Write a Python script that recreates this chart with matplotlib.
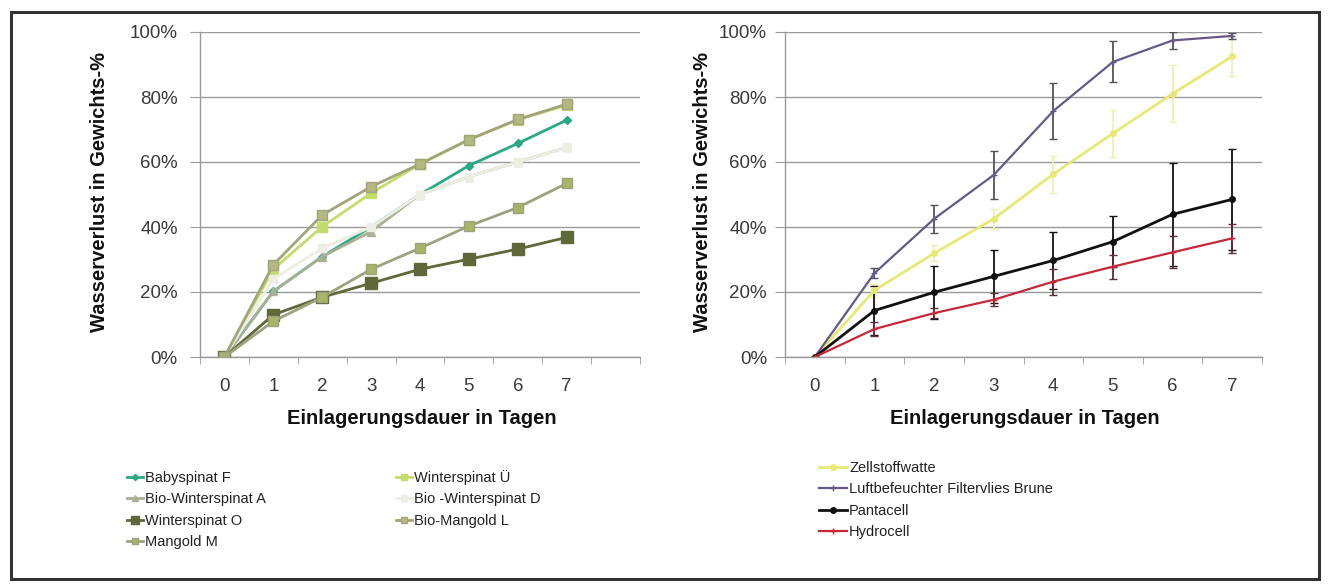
import matplotlib.pyplot as plt
from matplotlib.patches import Rectangle
from matplotlib.lines import Line2D
from matplotlib.ticker import FuncFormatter, FixedLocator

plt.rcParams['font.family'] = ['Liberation Sans', 'DejaVu Sans']

days = [0, 1, 2, 3, 4, 5, 6, 7]
day_labels = ['0', '1', '2', '3', '4', '5', '6', '7']

# left chart - spinach / chard samples (% weight loss)
babyspinat_f = [0, 20.2, 30.9, 40, 50, 58.9, 65.7, 72.9]
winterspinat_u = [0, 27, 40.1, 50.4, 59.4, 66.8, 73, 77.5]
bio_winterspinat_a = [0, 20.2, 30.9, 38.6, 50, 55.5, 60, 64.5]
bio_winterspinat_d = [0, 24, 33.5, 40, 50, 55.5, 60, 64.5]
winterspinat_o = [0, 13, 18.4, 22.7, 27, 30.1, 33.2, 36.8]
bio_mangold_l = [0, 28.4, 43.7, 52.4, 59.4, 66.9, 73.1, 77.8]
mangold_m = [0, 11, 18.4, 27, 33.5, 40.3, 46, 53.4]

# right chart - storage materials, mean and error
zellstoffwatte = [0, 20.5, 31.9, 42.5, 56.3, 68.8, 81, 92.5]
zellstoffwatte_err = [0, 2, 2.5, 3, 5.7, 7.2, 8.7, 6]
luftbefeuchter = [0, 25.8, 42.5, 56, 75.7, 90.8, 97.4, 98.8]
luftbefeuchter_err = [0, 1.5, 4.4, 7.5, 8.6, 6.3, 2.5, 1]
pantacell = [0, 14.3, 19.9, 24.8, 29.7, 35.5, 43.9, 48.5]
pantacell_err = [0, 7.4, 8.2, 8.2, 8.7, 7.9, 15.9, 15.5]
hydrocell = [0, 8.6, 13.5, 17.6, 23.2, 27.8, 32.2, 36.5]
hydrocell_err = [0, 2.2, 1.5, 2, 4, 3.7, 4.9, 4.5]

W, H = 1330, 588
fig = plt.figure(figsize=(W / 100, H / 100), dpi=100)

grid_c = '#9a9a9a'
tick_c = '#3a3a3a'


def style_axes(ax, ncat, ypad):
    ax.set_xlim(-0.5, ncat - 0.5)
    ax.set_ylim(0, 100)
    ax.set_yticks([0, 20, 40, 60, 80, 100])
    ax.yaxis.set_major_formatter(FuncFormatter(lambda v, p: '%d%%' % v))
    ax.set_xticks(days)
    ax.set_xticklabels(day_labels)
    ax.xaxis.set_minor_locator(FixedLocator([i - 0.5 for i in range(ncat + 1)]))
    ax.tick_params(axis='x', which='major', length=0, pad=15, labelsize=13.5, labelcolor=tick_c)
    ax.tick_params(axis='x', which='minor', length=5, color=grid_c, direction='out')
    ax.tick_params(axis='y', length=7, color=grid_c, pad=ypad, labelsize=13.5, labelcolor=tick_c)
    ax.grid(axis='y', color=grid_c, lw=1)
    ax.set_axisbelow(True)
    for s in ['top', 'right']:
        ax.spines[s].set_visible(False)
    for s in ['left', 'bottom']:
        ax.spines[s].set_color(grid_c)
        ax.spines[s].set_linewidth(1)


# left axes (one empty category slot on the right, as in the original)
ax1 = fig.add_axes([200 / W, 1 - 357 / H, 440 / W, 325 / H])
style_axes(ax1, 9, 9)
l_f, = ax1.plot(days, babyspinat_f, color='#2aa884', lw=2, marker='D', ms=4.5, label='Babyspinat F')
l_u, = ax1.plot(days, winterspinat_u, color='#c4dc6c', lw=2, marker='s', ms=7, label='Winterspinat Ü')
l_a, = ax1.plot(days, bio_winterspinat_a, color='#a9b095', lw=2, marker='^', ms=6, label='Bio-Winterspinat A')
l_d, = ax1.plot(days, bio_winterspinat_d, color='#eceee4', lw=2, marker='s', ms=6, label='Bio -Winterspinat D')
l_o, = ax1.plot(days, winterspinat_o, color='#5e6838', lw=2, marker='s', ms=8, label='Winterspinat O')
l_l, = ax1.plot(days, bio_mangold_l, color='#a3a47a', lw=2, marker='s', ms=7,
                markerfacecolor='#b3b880', markeredgecolor='#a3a47a', label='Bio-Mangold L')
l_m, = ax1.plot(days, mangold_m, color='#9ea27c', lw=2, marker='s', ms=7,
                markerfacecolor='#aab468', markeredgecolor='#9ea27c', label='Mangold M')

# right axes
ax2 = fig.add_axes([785 / W, 1 - 357 / H, 477 / W, 325 / H])
style_axes(ax2, 8, 6)
series_r = [
    ('Zellstoffwatte', zellstoffwatte, zellstoffwatte_err, '#e6ea74', '#eef0b0', 2, 'o'),
    ('Luftbefeuchter Filtervlies Brune', luftbefeuchter, luftbefeuchter_err, '#66598a', '#555060', 1.6, '+'),
    ('Pantacell', pantacell, pantacell_err, '#111111', '#111111', 2, 'o'),
    ('Hydrocell', hydrocell, hydrocell_err, '#c62838', '#5a3036', 1.6, '+'),
]
hr = []
for name, vals, err, col, ecol, lw, mk in series_r:
    ax2.errorbar(days, vals, yerr=err, color=col, ecolor=ecol, lw=lw, marker=mk, ms=4,
                 capsize=3, elinewidth=1.3)
    hr.append(Line2D([], [], color=col, lw=lw, marker=mk, ms=4, label=name))

fig.text(100 / W, 1 - 192 / H, 'Wasserverlust in Gewichts-%', rotation=90, ha='center', va='center',
         fontsize=14.5, fontweight='bold', color='#111111')
fig.text(702 / W, 1 - 192 / H, 'Wasserverlust in Gewichts-%', rotation=90, ha='center', va='center',
         fontsize=14.5, fontweight='bold', color='#111111')
fig.text(422 / W, 1 - 418 / H, 'Einlagerungsdauer in Tagen', ha='center', va='center',
         fontsize=14.5, fontweight='bold', color='#111111')
fig.text(1025 / W, 1 - 418 / H, 'Einlagerungsdauer in Tagen', ha='center', va='center',
         fontsize=14.5, fontweight='bold', color='#111111')

# legends
hl = [l_f, l_a, l_o, l_m, l_u, l_d, l_l]
fig.legend(hl, [h.get_label() for h in hl], loc='upper left', bbox_to_anchor=(114 / W, 1 - 457 / H),
           ncol=2, frameon=False, fontsize=10.5, handlelength=1.1, handletextpad=0.15,
           labelspacing=0.5, columnspacing=8.9, markerscale=0.7, labelcolor='#222222')
fig.legend(hr, [h.get_label() for h in hr], loc='upper left', bbox_to_anchor=(806 / W, 1 - 448 / H),
           ncol=1, frameon=False, fontsize=10.5, handlelength=1.9, handletextpad=0.15,
           labelspacing=0.5, labelcolor='#222222')

# outer frame
fig.patches.append(Rectangle((11 / W, 1 - 579 / H), 1308 / W, 567 / H, transform=fig.transFigure,
                             fill=False, edgecolor='#333333', lw=2.2))

fig.savefig('out.png', dpi=100)
